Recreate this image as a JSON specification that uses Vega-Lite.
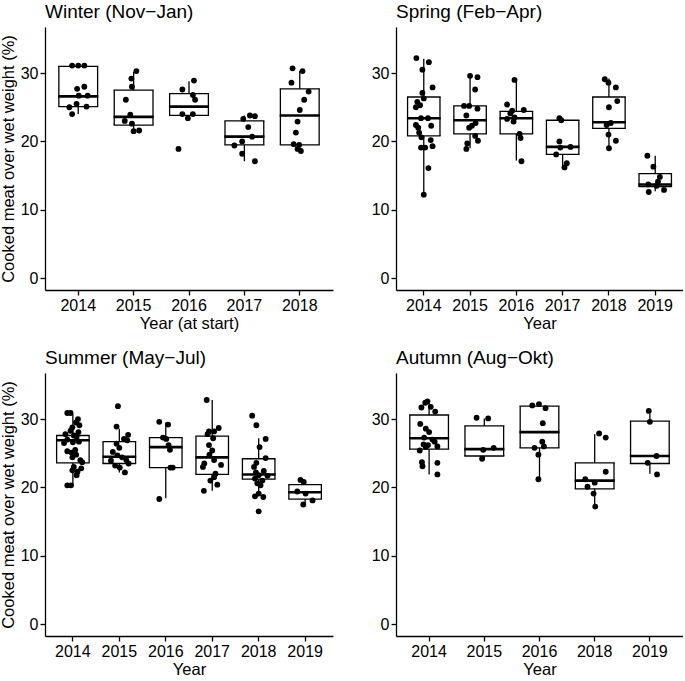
{
"$schema": "https://vega.github.io/schema/vega-lite/v6.json",
"background": "white",
"padding": {"left": 0, "top": 3, "right": 0, "bottom": 0},
"config": {
  "font": "Liberation Sans",
  "view": {"stroke": null},
  "axis": {"domainColor": "black", "domainWidth": 1.3, "tickColor": "black", "tickWidth": 1.3, "tickSize": 5, "labelColor": "black", "labelFontSize": 16, "titleFontSize": 16.5, "titleFontWeight": "normal", "titleColor": "black", "grid": false, "labelPadding": 2, "titlePadding": 4},
  "axisX": {"titlePadding": 2},
  "title": {"fontSize": 19, "fontWeight": "normal", "anchor": "start", "frame": "group", "color": "black", "offset": 5},
  "rule": {"color": "black", "strokeWidth": 1.3},
  "tick": {"color": "black", "opacity": 1},
  "circle": {"color": "black", "opacity": 1, "size": 34}
},
"datasets": {
"box": [
{"season":"Winter","year":"2014","lo":24.0,"q1":25.1,"med":26.6,"q3":31.0,"hi":31.1},
{"season":"Winter","year":"2015","lo":21.5,"q1":22.4,"med":23.6,"q3":27.5,"hi":30.2},
{"season":"Winter","year":"2016","lo":23.8,"q1":23.8,"med":25.1,"q3":27.0,"hi":28.8},
{"season":"Winter","year":"2017","lo":17.1,"q1":19.5,"med":20.7,"q3":23.0,"hi":23.8},
{"season":"Winter","year":"2018","lo":18.6,"q1":19.5,"med":23.8,"q3":27.7,"hi":30.3},
{"season":"Spring","year":"2014","lo":12.2,"q1":20.8,"med":23.4,"q3":26.5,"hi":32.1},
{"season":"Spring","year":"2015","lo":19.0,"q1":21.1,"med":23.1,"q3":25.2,"hi":29.6},
{"season":"Spring","year":"2016","lo":17.2,"q1":21.1,"med":23.4,"q3":24.4,"hi":29.0},
{"season":"Spring","year":"2017","lo":16.4,"q1":18.1,"med":19.2,"q3":23.1,"hi":23.3},
{"season":"Spring","year":"2018","lo":19.0,"q1":21.9,"med":22.8,"q3":26.5,"hi":29.2},
{"season":"Spring","year":"2019","lo":12.7,"q1":13.4,"med":13.7,"q3":15.3,"hi":17.9},
{"season":"Summer","year":"2014","lo":20.2,"q1":23.6,"med":26.9,"q3":27.6,"hi":30.7},
{"season":"Summer","year":"2015","lo":22.2,"q1":23.5,"med":24.5,"q3":26.7,"hi":28.6},
{"season":"Summer","year":"2016","lo":18.4,"q1":22.9,"med":25.9,"q3":27.3,"hi":29.5},
{"season":"Summer","year":"2017","lo":19.5,"q1":21.9,"med":24.4,"q3":27.5,"hi":32.8},
{"season":"Summer","year":"2018","lo":18.9,"q1":21.2,"med":21.9,"q3":24.2,"hi":27.2},
{"season":"Summer","year":"2019","lo":17.6,"q1":18.3,"med":19.3,"q3":20.4,"hi":21.0},
{"season":"Autumn","year":"2014","lo":21.9,"q1":25.6,"med":27.2,"q3":30.6,"hi":32.6},
{"season":"Autumn","year":"2015","lo":24.2,"q1":24.6,"med":25.6,"q3":29.0,"hi":30.1},
{"season":"Autumn","year":"2016","lo":21.2,"q1":25.8,"med":28.1,"q3":31.9,"hi":32.0},
{"season":"Autumn","year":"2018","lo":17.3,"q1":19.8,"med":21.0,"q3":23.6,"hi":27.8},
{"season":"Autumn","year":"2019","lo":22.0,"q1":23.5,"med":24.6,"q3":29.7,"hi":30.8}
],
"pts": [
{"season":"Winter","year":"2014","value":31.1,"jitter":-0.11},
{"season":"Winter","year":"2014","value":31.1,"jitter":0.0},
{"season":"Winter","year":"2014","value":31.1,"jitter":0.11},
{"season":"Winter","year":"2014","value":27.7,"jitter":-0.02},
{"season":"Winter","year":"2014","value":28.0,"jitter":0.11},
{"season":"Winter","year":"2014","value":26.7,"jitter":0.01},
{"season":"Winter","year":"2014","value":26.7,"jitter":0.17},
{"season":"Winter","year":"2014","value":25.0,"jitter":-0.16},
{"season":"Winter","year":"2014","value":25.5,"jitter":-0.03},
{"season":"Winter","year":"2014","value":25.1,"jitter":0.15},
{"season":"Winter","year":"2014","value":24.0,"jitter":-0.11},
{"season":"Winter","year":"2015","value":30.3,"jitter":0.05},
{"season":"Winter","year":"2015","value":29.2,"jitter":-0.04},
{"season":"Winter","year":"2015","value":28.0,"jitter":-0.03},
{"season":"Winter","year":"2015","value":26.1,"jitter":-0.14},
{"season":"Winter","year":"2015","value":23.9,"jitter":-0.06},
{"season":"Winter","year":"2015","value":23.0,"jitter":-0.16},
{"season":"Winter","year":"2015","value":22.6,"jitter":-0.03},
{"season":"Winter","year":"2015","value":21.5,"jitter":0.0},
{"season":"Winter","year":"2015","value":21.6,"jitter":0.10},
{"season":"Winter","year":"2016","value":28.9,"jitter":0.09},
{"season":"Winter","year":"2016","value":27.6,"jitter":-0.12},
{"season":"Winter","year":"2016","value":26.8,"jitter":0.07},
{"season":"Winter","year":"2016","value":26.1,"jitter":0.11},
{"season":"Winter","year":"2016","value":24.0,"jitter":-0.12},
{"season":"Winter","year":"2016","value":23.4,"jitter":-0.02},
{"season":"Winter","year":"2016","value":24.0,"jitter":0.07},
{"season":"Winter","year":"2016","value":18.9,"jitter":-0.19},
{"season":"Winter","year":"2017","value":23.3,"jitter":-0.02},
{"season":"Winter","year":"2017","value":23.8,"jitter":0.10},
{"season":"Winter","year":"2017","value":23.7,"jitter":0.19},
{"season":"Winter","year":"2017","value":22.1,"jitter":0.07},
{"season":"Winter","year":"2017","value":20.7,"jitter":0.14},
{"season":"Winter","year":"2017","value":20.0,"jitter":-0.04},
{"season":"Winter","year":"2017","value":19.4,"jitter":-0.18},
{"season":"Winter","year":"2017","value":18.2,"jitter":-0.04},
{"season":"Winter","year":"2017","value":17.1,"jitter":0.19},
{"season":"Winter","year":"2018","value":30.7,"jitter":-0.13},
{"season":"Winter","year":"2018","value":30.3,"jitter":0.05},
{"season":"Winter","year":"2018","value":28.6,"jitter":-0.15},
{"season":"Winter","year":"2018","value":27.3,"jitter":0.16},
{"season":"Winter","year":"2018","value":26.1,"jitter":0.08},
{"season":"Winter","year":"2018","value":24.6,"jitter":0.0},
{"season":"Winter","year":"2018","value":22.9,"jitter":-0.04},
{"season":"Winter","year":"2018","value":21.3,"jitter":-0.07},
{"season":"Winter","year":"2018","value":19.6,"jitter":-0.11},
{"season":"Winter","year":"2018","value":19.5,"jitter":-0.01},
{"season":"Winter","year":"2018","value":18.9,"jitter":-0.04},
{"season":"Winter","year":"2018","value":18.6,"jitter":0.02},
{"season":"Spring","year":"2014","value":32.2,"jitter":-0.16},
{"season":"Spring","year":"2014","value":31.6,"jitter":0.11},
{"season":"Spring","year":"2014","value":30.5,"jitter":-0.03},
{"season":"Spring","year":"2014","value":27.9,"jitter":0.19},
{"season":"Spring","year":"2014","value":27.1,"jitter":-0.03},
{"season":"Spring","year":"2014","value":26.3,"jitter":0.0},
{"season":"Spring","year":"2014","value":25.8,"jitter":-0.14},
{"season":"Spring","year":"2014","value":25.3,"jitter":-0.08},
{"season":"Spring","year":"2014","value":25.0,"jitter":-0.17},
{"season":"Spring","year":"2014","value":23.4,"jitter":-0.06},
{"season":"Spring","year":"2014","value":23.4,"jitter":0.09},
{"season":"Spring","year":"2014","value":22.4,"jitter":-0.17},
{"season":"Spring","year":"2014","value":22.0,"jitter":-0.12},
{"season":"Spring","year":"2014","value":22.3,"jitter":0.16},
{"season":"Spring","year":"2014","value":21.3,"jitter":-0.1},
{"season":"Spring","year":"2014","value":20.6,"jitter":-0.05},
{"season":"Spring","year":"2014","value":20.2,"jitter":0.15},
{"season":"Spring","year":"2014","value":19.1,"jitter":-0.06},
{"season":"Spring","year":"2014","value":19.1,"jitter":0.03},
{"season":"Spring","year":"2014","value":19.3,"jitter":0.19},
{"season":"Spring","year":"2014","value":16.1,"jitter":0.1},
{"season":"Spring","year":"2014","value":12.2,"jitter":0.0},
{"season":"Spring","year":"2015","value":29.6,"jitter":0.0},
{"season":"Spring","year":"2015","value":29.4,"jitter":0.16},
{"season":"Spring","year":"2015","value":27.6,"jitter":0.11},
{"season":"Spring","year":"2015","value":25.2,"jitter":-0.13},
{"season":"Spring","year":"2015","value":25.2,"jitter":-0.02},
{"season":"Spring","year":"2015","value":24.8,"jitter":0.16},
{"season":"Spring","year":"2015","value":23.8,"jitter":-0.08},
{"season":"Spring","year":"2015","value":22.7,"jitter":0.12},
{"season":"Spring","year":"2015","value":22.3,"jitter":0.04},
{"season":"Spring","year":"2015","value":22.0,"jitter":-0.02},
{"season":"Spring","year":"2015","value":20.8,"jitter":0.11},
{"season":"Spring","year":"2015","value":20.1,"jitter":0.17},
{"season":"Spring","year":"2015","value":19.7,"jitter":-0.06},
{"season":"Spring","year":"2015","value":18.9,"jitter":-0.08},
{"season":"Spring","year":"2016","value":29.0,"jitter":-0.04},
{"season":"Spring","year":"2016","value":25.4,"jitter":-0.2},
{"season":"Spring","year":"2016","value":24.5,"jitter":-0.09},
{"season":"Spring","year":"2016","value":24.6,"jitter":0.16},
{"season":"Spring","year":"2016","value":24.1,"jitter":-0.13},
{"season":"Spring","year":"2016","value":23.5,"jitter":-0.04},
{"season":"Spring","year":"2016","value":23.3,"jitter":-0.2},
{"season":"Spring","year":"2016","value":22.9,"jitter":-0.06},
{"season":"Spring","year":"2016","value":21.1,"jitter":0.07},
{"season":"Spring","year":"2016","value":20.5,"jitter":0.09},
{"season":"Spring","year":"2016","value":17.1,"jitter":0.11},
{"season":"Spring","year":"2017","value":23.4,"jitter":-0.07},
{"season":"Spring","year":"2017","value":23.1,"jitter":-0.03},
{"season":"Spring","year":"2017","value":20.0,"jitter":-0.07},
{"season":"Spring","year":"2017","value":19.2,"jitter":0.17},
{"season":"Spring","year":"2017","value":19.1,"jitter":-0.05},
{"season":"Spring","year":"2017","value":18.1,"jitter":-0.14},
{"season":"Spring","year":"2017","value":16.8,"jitter":0.09},
{"season":"Spring","year":"2017","value":16.2,"jitter":0.04},
{"season":"Spring","year":"2018","value":29.1,"jitter":-0.09},
{"season":"Spring","year":"2018","value":28.6,"jitter":-0.01},
{"season":"Spring","year":"2018","value":27.9,"jitter":0.15},
{"season":"Spring","year":"2018","value":25.9,"jitter":0.18},
{"season":"Spring","year":"2018","value":25.0,"jitter":0.0},
{"season":"Spring","year":"2018","value":22.7,"jitter":0.04},
{"season":"Spring","year":"2018","value":22.4,"jitter":-0.05},
{"season":"Spring","year":"2018","value":21.0,"jitter":-0.01},
{"season":"Spring","year":"2018","value":20.1,"jitter":0.15},
{"season":"Spring","year":"2018","value":19.0,"jitter":0.0},
{"season":"Spring","year":"2019","value":17.9,"jitter":-0.17},
{"season":"Spring","year":"2019","value":16.3,"jitter":-0.04},
{"season":"Spring","year":"2019","value":14.8,"jitter":0.1},
{"season":"Spring","year":"2019","value":14.1,"jitter":0.06},
{"season":"Spring","year":"2019","value":13.7,"jitter":-0.15},
{"season":"Spring","year":"2019","value":13.5,"jitter":0.03},
{"season":"Spring","year":"2019","value":12.6,"jitter":-0.14},
{"season":"Spring","year":"2019","value":12.9,"jitter":0.19},
{"season":"Summer","year":"2014","value":30.9,"jitter":-0.12},
{"season":"Summer","year":"2014","value":30.9,"jitter":-0.05},
{"season":"Summer","year":"2014","value":30.0,"jitter":0.11},
{"season":"Summer","year":"2014","value":29.5,"jitter":0.07},
{"season":"Summer","year":"2014","value":29.1,"jitter":0.14},
{"season":"Summer","year":"2014","value":28.8,"jitter":-0.01},
{"season":"Summer","year":"2014","value":28.3,"jitter":-0.05},
{"season":"Summer","year":"2014","value":28.1,"jitter":0.12},
{"season":"Summer","year":"2014","value":27.8,"jitter":-0.16},
{"season":"Summer","year":"2014","value":27.6,"jitter":0.02},
{"season":"Summer","year":"2014","value":27.4,"jitter":0.08},
{"season":"Summer","year":"2014","value":27.0,"jitter":-0.12},
{"season":"Summer","year":"2014","value":26.7,"jitter":0.13},
{"season":"Summer","year":"2014","value":26.5,"jitter":-0.19},
{"season":"Summer","year":"2014","value":26.6,"jitter":0.0},
{"season":"Summer","year":"2014","value":25.3,"jitter":-0.12},
{"season":"Summer","year":"2014","value":25.5,"jitter":0.05},
{"season":"Summer","year":"2014","value":25.1,"jitter":-0.03},
{"season":"Summer","year":"2014","value":24.8,"jitter":0.07},
{"season":"Summer","year":"2014","value":24.4,"jitter":-0.01},
{"season":"Summer","year":"2014","value":24.0,"jitter":0.16},
{"season":"Summer","year":"2014","value":23.7,"jitter":0.2},
{"season":"Summer","year":"2014","value":23.0,"jitter":0.02},
{"season":"Summer","year":"2014","value":22.8,"jitter":0.18},
{"season":"Summer","year":"2014","value":22.3,"jitter":0.1},
{"season":"Summer","year":"2014","value":22.5,"jitter":-0.01},
{"season":"Summer","year":"2014","value":21.8,"jitter":0.08},
{"season":"Summer","year":"2014","value":20.3,"jitter":-0.12},
{"season":"Summer","year":"2014","value":20.3,"jitter":-0.04},
{"season":"Summer","year":"2015","value":31.9,"jitter":-0.03},
{"season":"Summer","year":"2015","value":28.9,"jitter":-0.06},
{"season":"Summer","year":"2015","value":27.7,"jitter":0.19},
{"season":"Summer","year":"2015","value":27.1,"jitter":0.1},
{"season":"Summer","year":"2015","value":26.9,"jitter":0.17},
{"season":"Summer","year":"2015","value":26.4,"jitter":-0.06},
{"season":"Summer","year":"2015","value":25.2,"jitter":-0.14},
{"season":"Summer","year":"2015","value":24.7,"jitter":-0.04},
{"season":"Summer","year":"2015","value":24.4,"jitter":0.06},
{"season":"Summer","year":"2015","value":24.0,"jitter":0.15},
{"season":"Summer","year":"2015","value":23.9,"jitter":-0.18},
{"season":"Summer","year":"2015","value":23.2,"jitter":-0.09},
{"season":"Summer","year":"2015","value":22.9,"jitter":0.01},
{"season":"Summer","year":"2015","value":22.2,"jitter":0.12},
{"season":"Summer","year":"2015","value":23.5,"jitter":0.2},
{"season":"Summer","year":"2015","value":25.8,"jitter":0.0},
{"season":"Summer","year":"2016","value":29.6,"jitter":-0.14},
{"season":"Summer","year":"2016","value":29.2,"jitter":0.05},
{"season":"Summer","year":"2016","value":27.3,"jitter":-0.06},
{"season":"Summer","year":"2016","value":27.1,"jitter":0.01},
{"season":"Summer","year":"2016","value":26.2,"jitter":0.06},
{"season":"Summer","year":"2016","value":25.5,"jitter":0.09},
{"season":"Summer","year":"2016","value":22.9,"jitter":0.1},
{"season":"Summer","year":"2016","value":22.9,"jitter":0.15},
{"season":"Summer","year":"2016","value":18.3,"jitter":-0.14},
{"season":"Summer","year":"2017","value":32.8,"jitter":-0.12},
{"season":"Summer","year":"2017","value":28.2,"jitter":-0.07},
{"season":"Summer","year":"2017","value":28.2,"jitter":0.04},
{"season":"Summer","year":"2017","value":28.7,"jitter":0.14},
{"season":"Summer","year":"2017","value":27.8,"jitter":-0.1},
{"season":"Summer","year":"2017","value":27.2,"jitter":0.02},
{"season":"Summer","year":"2017","value":26.2,"jitter":-0.07},
{"season":"Summer","year":"2017","value":25.4,"jitter":0.0},
{"season":"Summer","year":"2017","value":24.8,"jitter":-0.06},
{"season":"Summer","year":"2017","value":23.5,"jitter":-0.17},
{"season":"Summer","year":"2017","value":24.0,"jitter":0.04},
{"season":"Summer","year":"2017","value":23.3,"jitter":0.19},
{"season":"Summer","year":"2017","value":23.0,"jitter":-0.2},
{"season":"Summer","year":"2017","value":22.0,"jitter":0.07},
{"season":"Summer","year":"2017","value":21.5,"jitter":0.04},
{"season":"Summer","year":"2017","value":21.0,"jitter":-0.04},
{"season":"Summer","year":"2017","value":20.4,"jitter":0.11},
{"season":"Summer","year":"2017","value":19.5,"jitter":-0.18},
{"season":"Summer","year":"2018","value":30.5,"jitter":-0.14},
{"season":"Summer","year":"2018","value":29.1,"jitter":-0.05},
{"season":"Summer","year":"2018","value":27.1,"jitter":0.15},
{"season":"Summer","year":"2018","value":25.9,"jitter":0.02},
{"season":"Summer","year":"2018","value":24.3,"jitter":0.15},
{"season":"Summer","year":"2018","value":23.6,"jitter":-0.05},
{"season":"Summer","year":"2018","value":23.0,"jitter":-0.1},
{"season":"Summer","year":"2018","value":22.4,"jitter":0.11},
{"season":"Summer","year":"2018","value":22.2,"jitter":-0.06},
{"season":"Summer","year":"2018","value":21.8,"jitter":0.0},
{"season":"Summer","year":"2018","value":21.7,"jitter":0.19},
{"season":"Summer","year":"2018","value":21.3,"jitter":-0.08},
{"season":"Summer","year":"2018","value":21.0,"jitter":0.08},
{"season":"Summer","year":"2018","value":20.6,"jitter":-0.03},
{"season":"Summer","year":"2018","value":20.3,"jitter":0.04},
{"season":"Summer","year":"2018","value":19.1,"jitter":0.0},
{"season":"Summer","year":"2018","value":18.6,"jitter":0.1},
{"season":"Summer","year":"2018","value":18.7,"jitter":-0.08},
{"season":"Summer","year":"2018","value":16.5,"jitter":0.0},
{"season":"Summer","year":"2019","value":21.1,"jitter":-0.1},
{"season":"Summer","year":"2019","value":20.8,"jitter":-0.03},
{"season":"Summer","year":"2019","value":19.4,"jitter":-0.17},
{"season":"Summer","year":"2019","value":19.1,"jitter":0.01},
{"season":"Summer","year":"2019","value":18.1,"jitter":0.16},
{"season":"Summer","year":"2019","value":17.5,"jitter":-0.04},
{"season":"Autumn","year":"2014","value":32.6,"jitter":-0.03},
{"season":"Autumn","year":"2014","value":32.4,"jitter":-0.07},
{"season":"Autumn","year":"2014","value":31.7,"jitter":-0.14},
{"season":"Autumn","year":"2014","value":31.8,"jitter":0.03},
{"season":"Autumn","year":"2014","value":31.1,"jitter":0.11},
{"season":"Autumn","year":"2014","value":29.3,"jitter":-0.16},
{"season":"Autumn","year":"2014","value":28.6,"jitter":-0.06},
{"season":"Autumn","year":"2014","value":28.1,"jitter":0.0},
{"season":"Autumn","year":"2014","value":27.3,"jitter":-0.09},
{"season":"Autumn","year":"2014","value":27.0,"jitter":0.06},
{"season":"Autumn","year":"2014","value":26.7,"jitter":0.1},
{"season":"Autumn","year":"2014","value":26.3,"jitter":-0.1},
{"season":"Autumn","year":"2014","value":26.0,"jitter":0.15},
{"season":"Autumn","year":"2014","value":26.2,"jitter":-0.02},
{"season":"Autumn","year":"2014","value":25.9,"jitter":-0.06},
{"season":"Autumn","year":"2014","value":25.4,"jitter":-0.17},
{"season":"Autumn","year":"2014","value":23.7,"jitter":-0.13},
{"season":"Autumn","year":"2014","value":23.6,"jitter":0.15},
{"season":"Autumn","year":"2014","value":23.1,"jitter":-0.12},
{"season":"Autumn","year":"2014","value":21.9,"jitter":0.15},
{"season":"Autumn","year":"2015","value":30.2,"jitter":-0.14},
{"season":"Autumn","year":"2015","value":30.1,"jitter":0.07},
{"season":"Autumn","year":"2015","value":25.5,"jitter":-0.02},
{"season":"Autumn","year":"2015","value":25.8,"jitter":0.17},
{"season":"Autumn","year":"2015","value":24.2,"jitter":-0.04},
{"season":"Autumn","year":"2016","value":32.0,"jitter":-0.13},
{"season":"Autumn","year":"2016","value":32.2,"jitter":-0.01},
{"season":"Autumn","year":"2016","value":31.6,"jitter":0.11},
{"season":"Autumn","year":"2016","value":29.4,"jitter":0.06},
{"season":"Autumn","year":"2016","value":26.7,"jitter":0.05},
{"season":"Autumn","year":"2016","value":25.8,"jitter":-0.09},
{"season":"Autumn","year":"2016","value":26.0,"jitter":0.08},
{"season":"Autumn","year":"2016","value":24.8,"jitter":-0.02},
{"season":"Autumn","year":"2016","value":21.2,"jitter":-0.02},
{"season":"Autumn","year":"2018","value":27.9,"jitter":0.08},
{"season":"Autumn","year":"2018","value":27.3,"jitter":0.2},
{"season":"Autumn","year":"2018","value":22.3,"jitter":0.2},
{"season":"Autumn","year":"2018","value":21.2,"jitter":-0.17},
{"season":"Autumn","year":"2018","value":20.7,"jitter":0.0},
{"season":"Autumn","year":"2018","value":20.1,"jitter":-0.13},
{"season":"Autumn","year":"2018","value":19.1,"jitter":-0.02},
{"season":"Autumn","year":"2018","value":17.2,"jitter":0.01},
{"season":"Autumn","year":"2019","value":31.2,"jitter":-0.02},
{"season":"Autumn","year":"2019","value":29.6,"jitter":0.0},
{"season":"Autumn","year":"2019","value":24.6,"jitter":0.12},
{"season":"Autumn","year":"2019","value":23.6,"jitter":-0.04},
{"season":"Autumn","year":"2019","value":21.9,"jitter":0.13}
]
},
"spacing": 17,
"resolve": {"scale": {"xOffset": "independent"}},
"vconcat": [
{"spacing": 38, "resolve": {"scale": {"xOffset": "independent"}}, "hconcat": [
{"title": "Winter (Nov−Jan)", "width": 288, "height": 263,
 "layer": [
  {"data": {"name": "box"}, "transform": [{"filter": "datum.season === 'Winter'"}], "mark": {"type": "rule"},
   "encoding": {"x": {"field": "year", "type": "ordinal", "scale": {"type": "band", "paddingInner": 0, "paddingOuter": 0.1}, "axis": {"title": "Year (at start)", "labelAngle": 0}},
    "y": {"field": "lo", "type": "quantitative", "scale": {"domain": [-1.75, 36.75], "nice": false, "zero": false}, "axis": {"values": [0, 10, 20, 30], "title": "Cooked meat over wet weight (%)"}}, "y2": {"field": "q1"}}},
  {"data": {"name": "box"}, "transform": [{"filter": "datum.season === 'Winter'"}], "mark": {"type": "rule"},
   "encoding": {"x": {"field": "year", "type": "ordinal"}, "y": {"field": "q3", "type": "quantitative"}, "y2": {"field": "hi"}}},
  {"data": {"name": "box"}, "transform": [{"filter": "datum.season === 'Winter'"}], "mark": {"type": "rule"},
   "encoding": {"x": {"field": "year", "type": "ordinal"}, "xOffset": {"datum": -0.35, "type": "quantitative", "scale": {"domain": [-0.5, 0.5]}}, "y": {"field": "q1", "type": "quantitative"}, "y2": {"field": "q3"}}},
  {"data": {"name": "box"}, "transform": [{"filter": "datum.season === 'Winter'"}], "mark": {"type": "rule"},
   "encoding": {"x": {"field": "year", "type": "ordinal"}, "xOffset": {"datum": 0.35, "type": "quantitative"}, "y": {"field": "q1", "type": "quantitative"}, "y2": {"field": "q3"}}},
  {"data": {"name": "box"}, "transform": [{"filter": "datum.season === 'Winter'"}, {"fold": ["q1", "q3"], "as": ["stat", "edge"]}], "mark": {"type": "tick", "size": 40.1, "thickness": 1.3},
   "encoding": {"x": {"field": "year", "type": "ordinal"}, "y": {"field": "edge", "type": "quantitative"}}},
  {"data": {"name": "box"}, "transform": [{"filter": "datum.season === 'Winter'"}], "mark": {"type": "tick", "size": 40.1, "thickness": 2.6},
   "encoding": {"x": {"field": "year", "type": "ordinal"}, "y": {"field": "med", "type": "quantitative"}}},
  {"data": {"name": "pts"}, "transform": [{"filter": "datum.season === 'Winter'"}], "mark": {"type": "circle"},
   "encoding": {"x": {"field": "year", "type": "ordinal"}, "xOffset": {"field": "jitter", "type": "quantitative"}, "y": {"field": "value", "type": "quantitative"}}}
 ]},
{"title": "Spring (Feb−Apr)", "width": 287, "height": 263,
 "layer": [
  {"data": {"name": "box"}, "transform": [{"filter": "datum.season === 'Spring'"}], "mark": {"type": "rule"},
   "encoding": {"x": {"field": "year", "type": "ordinal", "scale": {"type": "band", "paddingInner": 0, "paddingOuter": 0.1}, "axis": {"title": "Year", "labelAngle": 0}},
    "y": {"field": "lo", "type": "quantitative", "scale": {"domain": [-1.75, 36.75], "nice": false, "zero": false}, "axis": {"values": [0, 10, 20, 30], "title": null}}, "y2": {"field": "q1"}}},
  {"data": {"name": "box"}, "transform": [{"filter": "datum.season === 'Spring'"}], "mark": {"type": "rule"},
   "encoding": {"x": {"field": "year", "type": "ordinal"}, "y": {"field": "q3", "type": "quantitative"}, "y2": {"field": "hi"}}},
  {"data": {"name": "box"}, "transform": [{"filter": "datum.season === 'Spring'"}], "mark": {"type": "rule"},
   "encoding": {"x": {"field": "year", "type": "ordinal"}, "xOffset": {"datum": -0.35, "type": "quantitative", "scale": {"domain": [-0.5, 0.5]}}, "y": {"field": "q1", "type": "quantitative"}, "y2": {"field": "q3"}}},
  {"data": {"name": "box"}, "transform": [{"filter": "datum.season === 'Spring'"}], "mark": {"type": "rule"},
   "encoding": {"x": {"field": "year", "type": "ordinal"}, "xOffset": {"datum": 0.35, "type": "quantitative"}, "y": {"field": "q1", "type": "quantitative"}, "y2": {"field": "q3"}}},
  {"data": {"name": "box"}, "transform": [{"filter": "datum.season === 'Spring'"}, {"fold": ["q1", "q3"], "as": ["stat", "edge"]}], "mark": {"type": "tick", "size": 33.7, "thickness": 1.3},
   "encoding": {"x": {"field": "year", "type": "ordinal"}, "y": {"field": "edge", "type": "quantitative"}}},
  {"data": {"name": "box"}, "transform": [{"filter": "datum.season === 'Spring'"}], "mark": {"type": "tick", "size": 33.7, "thickness": 2.6},
   "encoding": {"x": {"field": "year", "type": "ordinal"}, "y": {"field": "med", "type": "quantitative"}}},
  {"data": {"name": "pts"}, "transform": [{"filter": "datum.season === 'Spring'"}], "mark": {"type": "circle"},
   "encoding": {"x": {"field": "year", "type": "ordinal"}, "xOffset": {"field": "jitter", "type": "quantitative"}, "y": {"field": "value", "type": "quantitative"}}}
 ]}
]},
{"spacing": 38, "resolve": {"scale": {"xOffset": "independent"}}, "hconcat": [
{"title": "Summer (May−Jul)", "width": 288, "height": 263,
 "layer": [
  {"data": {"name": "box"}, "transform": [{"filter": "datum.season === 'Summer'"}], "mark": {"type": "rule"},
   "encoding": {"x": {"field": "year", "type": "ordinal", "scale": {"type": "band", "paddingInner": 0, "paddingOuter": 0.1}, "axis": {"title": "Year", "labelAngle": 0}},
    "y": {"field": "lo", "type": "quantitative", "scale": {"domain": [-1.75, 36.75], "nice": false, "zero": false}, "axis": {"values": [0, 10, 20, 30], "title": "Cooked meat over wet weight (%)"}}, "y2": {"field": "q1"}}},
  {"data": {"name": "box"}, "transform": [{"filter": "datum.season === 'Summer'"}], "mark": {"type": "rule"},
   "encoding": {"x": {"field": "year", "type": "ordinal"}, "y": {"field": "q3", "type": "quantitative"}, "y2": {"field": "hi"}}},
  {"data": {"name": "box"}, "transform": [{"filter": "datum.season === 'Summer'"}], "mark": {"type": "rule"},
   "encoding": {"x": {"field": "year", "type": "ordinal"}, "xOffset": {"datum": -0.35, "type": "quantitative", "scale": {"domain": [-0.5, 0.5]}}, "y": {"field": "q1", "type": "quantitative"}, "y2": {"field": "q3"}}},
  {"data": {"name": "box"}, "transform": [{"filter": "datum.season === 'Summer'"}], "mark": {"type": "rule"},
   "encoding": {"x": {"field": "year", "type": "ordinal"}, "xOffset": {"datum": 0.35, "type": "quantitative"}, "y": {"field": "q1", "type": "quantitative"}, "y2": {"field": "q3"}}},
  {"data": {"name": "box"}, "transform": [{"filter": "datum.season === 'Summer'"}, {"fold": ["q1", "q3"], "as": ["stat", "edge"]}], "mark": {"type": "tick", "size": 33.7, "thickness": 1.3},
   "encoding": {"x": {"field": "year", "type": "ordinal"}, "y": {"field": "edge", "type": "quantitative"}}},
  {"data": {"name": "box"}, "transform": [{"filter": "datum.season === 'Summer'"}], "mark": {"type": "tick", "size": 33.7, "thickness": 2.6},
   "encoding": {"x": {"field": "year", "type": "ordinal"}, "y": {"field": "med", "type": "quantitative"}}},
  {"data": {"name": "pts"}, "transform": [{"filter": "datum.season === 'Summer'"}], "mark": {"type": "circle"},
   "encoding": {"x": {"field": "year", "type": "ordinal"}, "xOffset": {"field": "jitter", "type": "quantitative"}, "y": {"field": "value", "type": "quantitative"}}}
 ]},
{"title": "Autumn (Aug−Okt)", "width": 287, "height": 263,
 "layer": [
  {"data": {"name": "box"}, "transform": [{"filter": "datum.season === 'Autumn'"}], "mark": {"type": "rule"},
   "encoding": {"x": {"field": "year", "type": "ordinal", "scale": {"type": "band", "paddingInner": 0, "paddingOuter": 0.1}, "axis": {"title": "Year", "labelAngle": 0}},
    "y": {"field": "lo", "type": "quantitative", "scale": {"domain": [-1.75, 36.75], "nice": false, "zero": false}, "axis": {"values": [0, 10, 20, 30], "title": null}}, "y2": {"field": "q1"}}},
  {"data": {"name": "box"}, "transform": [{"filter": "datum.season === 'Autumn'"}], "mark": {"type": "rule"},
   "encoding": {"x": {"field": "year", "type": "ordinal"}, "y": {"field": "q3", "type": "quantitative"}, "y2": {"field": "hi"}}},
  {"data": {"name": "box"}, "transform": [{"filter": "datum.season === 'Autumn'"}], "mark": {"type": "rule"},
   "encoding": {"x": {"field": "year", "type": "ordinal"}, "xOffset": {"datum": -0.35, "type": "quantitative", "scale": {"domain": [-0.5, 0.5]}}, "y": {"field": "q1", "type": "quantitative"}, "y2": {"field": "q3"}}},
  {"data": {"name": "box"}, "transform": [{"filter": "datum.season === 'Autumn'"}], "mark": {"type": "rule"},
   "encoding": {"x": {"field": "year", "type": "ordinal"}, "xOffset": {"datum": 0.35, "type": "quantitative"}, "y": {"field": "q1", "type": "quantitative"}, "y2": {"field": "q3"}}},
  {"data": {"name": "box"}, "transform": [{"filter": "datum.season === 'Autumn'"}, {"fold": ["q1", "q3"], "as": ["stat", "edge"]}], "mark": {"type": "tick", "size": 40.1, "thickness": 1.3},
   "encoding": {"x": {"field": "year", "type": "ordinal"}, "y": {"field": "edge", "type": "quantitative"}}},
  {"data": {"name": "box"}, "transform": [{"filter": "datum.season === 'Autumn'"}], "mark": {"type": "tick", "size": 40.1, "thickness": 2.6},
   "encoding": {"x": {"field": "year", "type": "ordinal"}, "y": {"field": "med", "type": "quantitative"}}},
  {"data": {"name": "pts"}, "transform": [{"filter": "datum.season === 'Autumn'"}], "mark": {"type": "circle"},
   "encoding": {"x": {"field": "year", "type": "ordinal"}, "xOffset": {"field": "jitter", "type": "quantitative"}, "y": {"field": "value", "type": "quantitative"}}}
 ]}
]}
]
}
